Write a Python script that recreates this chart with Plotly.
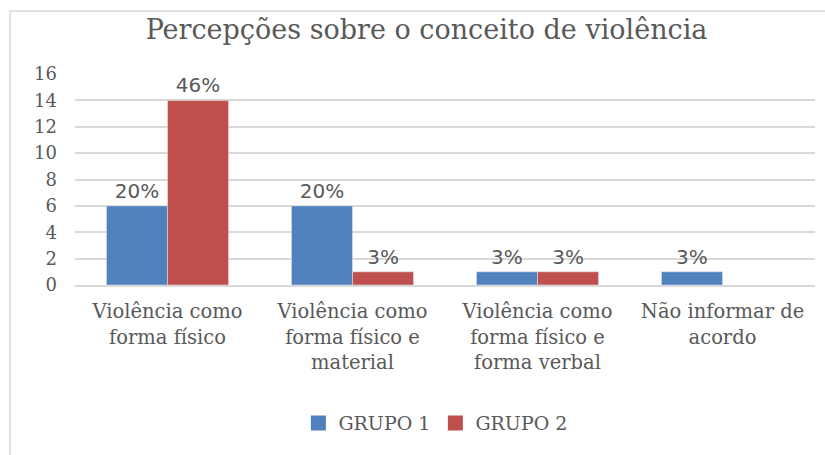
import plotly.graph_objects as go

categories = ["Violência como<br>forma físico", "Violência como<br>forma físico e<br>material",
              "Violência como<br>forma físico e<br>forma verbal", "Não informar de<br>acordo"]
grupo1 = [6, 6, 1, 1]
grupo2 = [14, 1, 1, None]
labels1 = ["20%", "20%", "3%", "3%"]
labels2 = ["46%", "3%", "3%", ""]
series_names = ["GRUPO 1", "GRUPO 2"]
series_colors = ["#4f81bd", "#c0504d"]
yticks = [0, 2, 4, 6, 8, 10, 12, 14, 16]

serif = "DejaVu Serif, serif"
sans = "DejaVu Sans, sans-serif"
grey = "#595959"

fig = go.Figure()
for name, vals, labs, col in zip(series_names, [grupo1, grupo2], [labels1, labels2], series_colors):
    fig.add_trace(go.Bar(name=name, x=categories, y=vals, text=labs,
                         textposition="outside", marker_color=col, showlegend=False,
                         textfont=dict(family=sans, size=20, color=grey), cliponaxis=False))
# legend entries with larger square swatches
for name, col in zip(series_names, series_colors):
    fig.add_trace(go.Scatter(name=name, x=[None], y=[None], mode="markers",
                             marker=dict(symbol="square", size=15, color=col), showlegend=True))

fig.update_layout(
    width=825, height=455,
    margin=dict(l=75, r=10, t=74, b=170),
    paper_bgcolor="white", plot_bgcolor="white",
    barmode="group", bargap=0.34, bargroupgap=0,
    title=dict(text="Percepções sobre o conceito de violência", x=0.517, xanchor="center",
               y=0.935, yanchor="middle",
               font=dict(family=serif, size=27, color=grey)),
    font=dict(family=serif, color=grey),
    legend=dict(orientation="h", x=0.487, xanchor="center", y=-0.655, yanchor="middle",
                font=dict(family=serif, size=19, color=grey), itemwidth=30),
    hovermode=False,
)
fig.update_yaxes(range=[0, 16], tickvals=yticks, showgrid=True, gridcolor="#d9d9d9",
                 gridwidth=1.5, zeroline=False, showline=False, automargin=False,
                 tickfont=dict(family=serif, size=18, color=grey), ticks="", ticklabelstandoff=17)
fig.update_xaxes(showline=True, linecolor="#d9d9d9", linewidth=1.5, automargin=False,
                 tickfont=dict(family=serif, size=19.5, color=grey), ticks="", ticklabelstandoff=8)
fig.add_shape(type="rect", xref="paper", yref="paper",
              x0=(10 - 75) / 740, x1=(830 - 75) / 740,
              y0=(285 - 460) / 211, y1=(285 - 11) / 211,
              line=dict(color="#d9d9d9", width=1.5), fillcolor="rgba(0,0,0,0)", layer="below")
fig.write_html("out.html", config={"displayModeBar": False},
               post_script="document.body.style.margin='0';document.body.style.overflow='hidden';")
